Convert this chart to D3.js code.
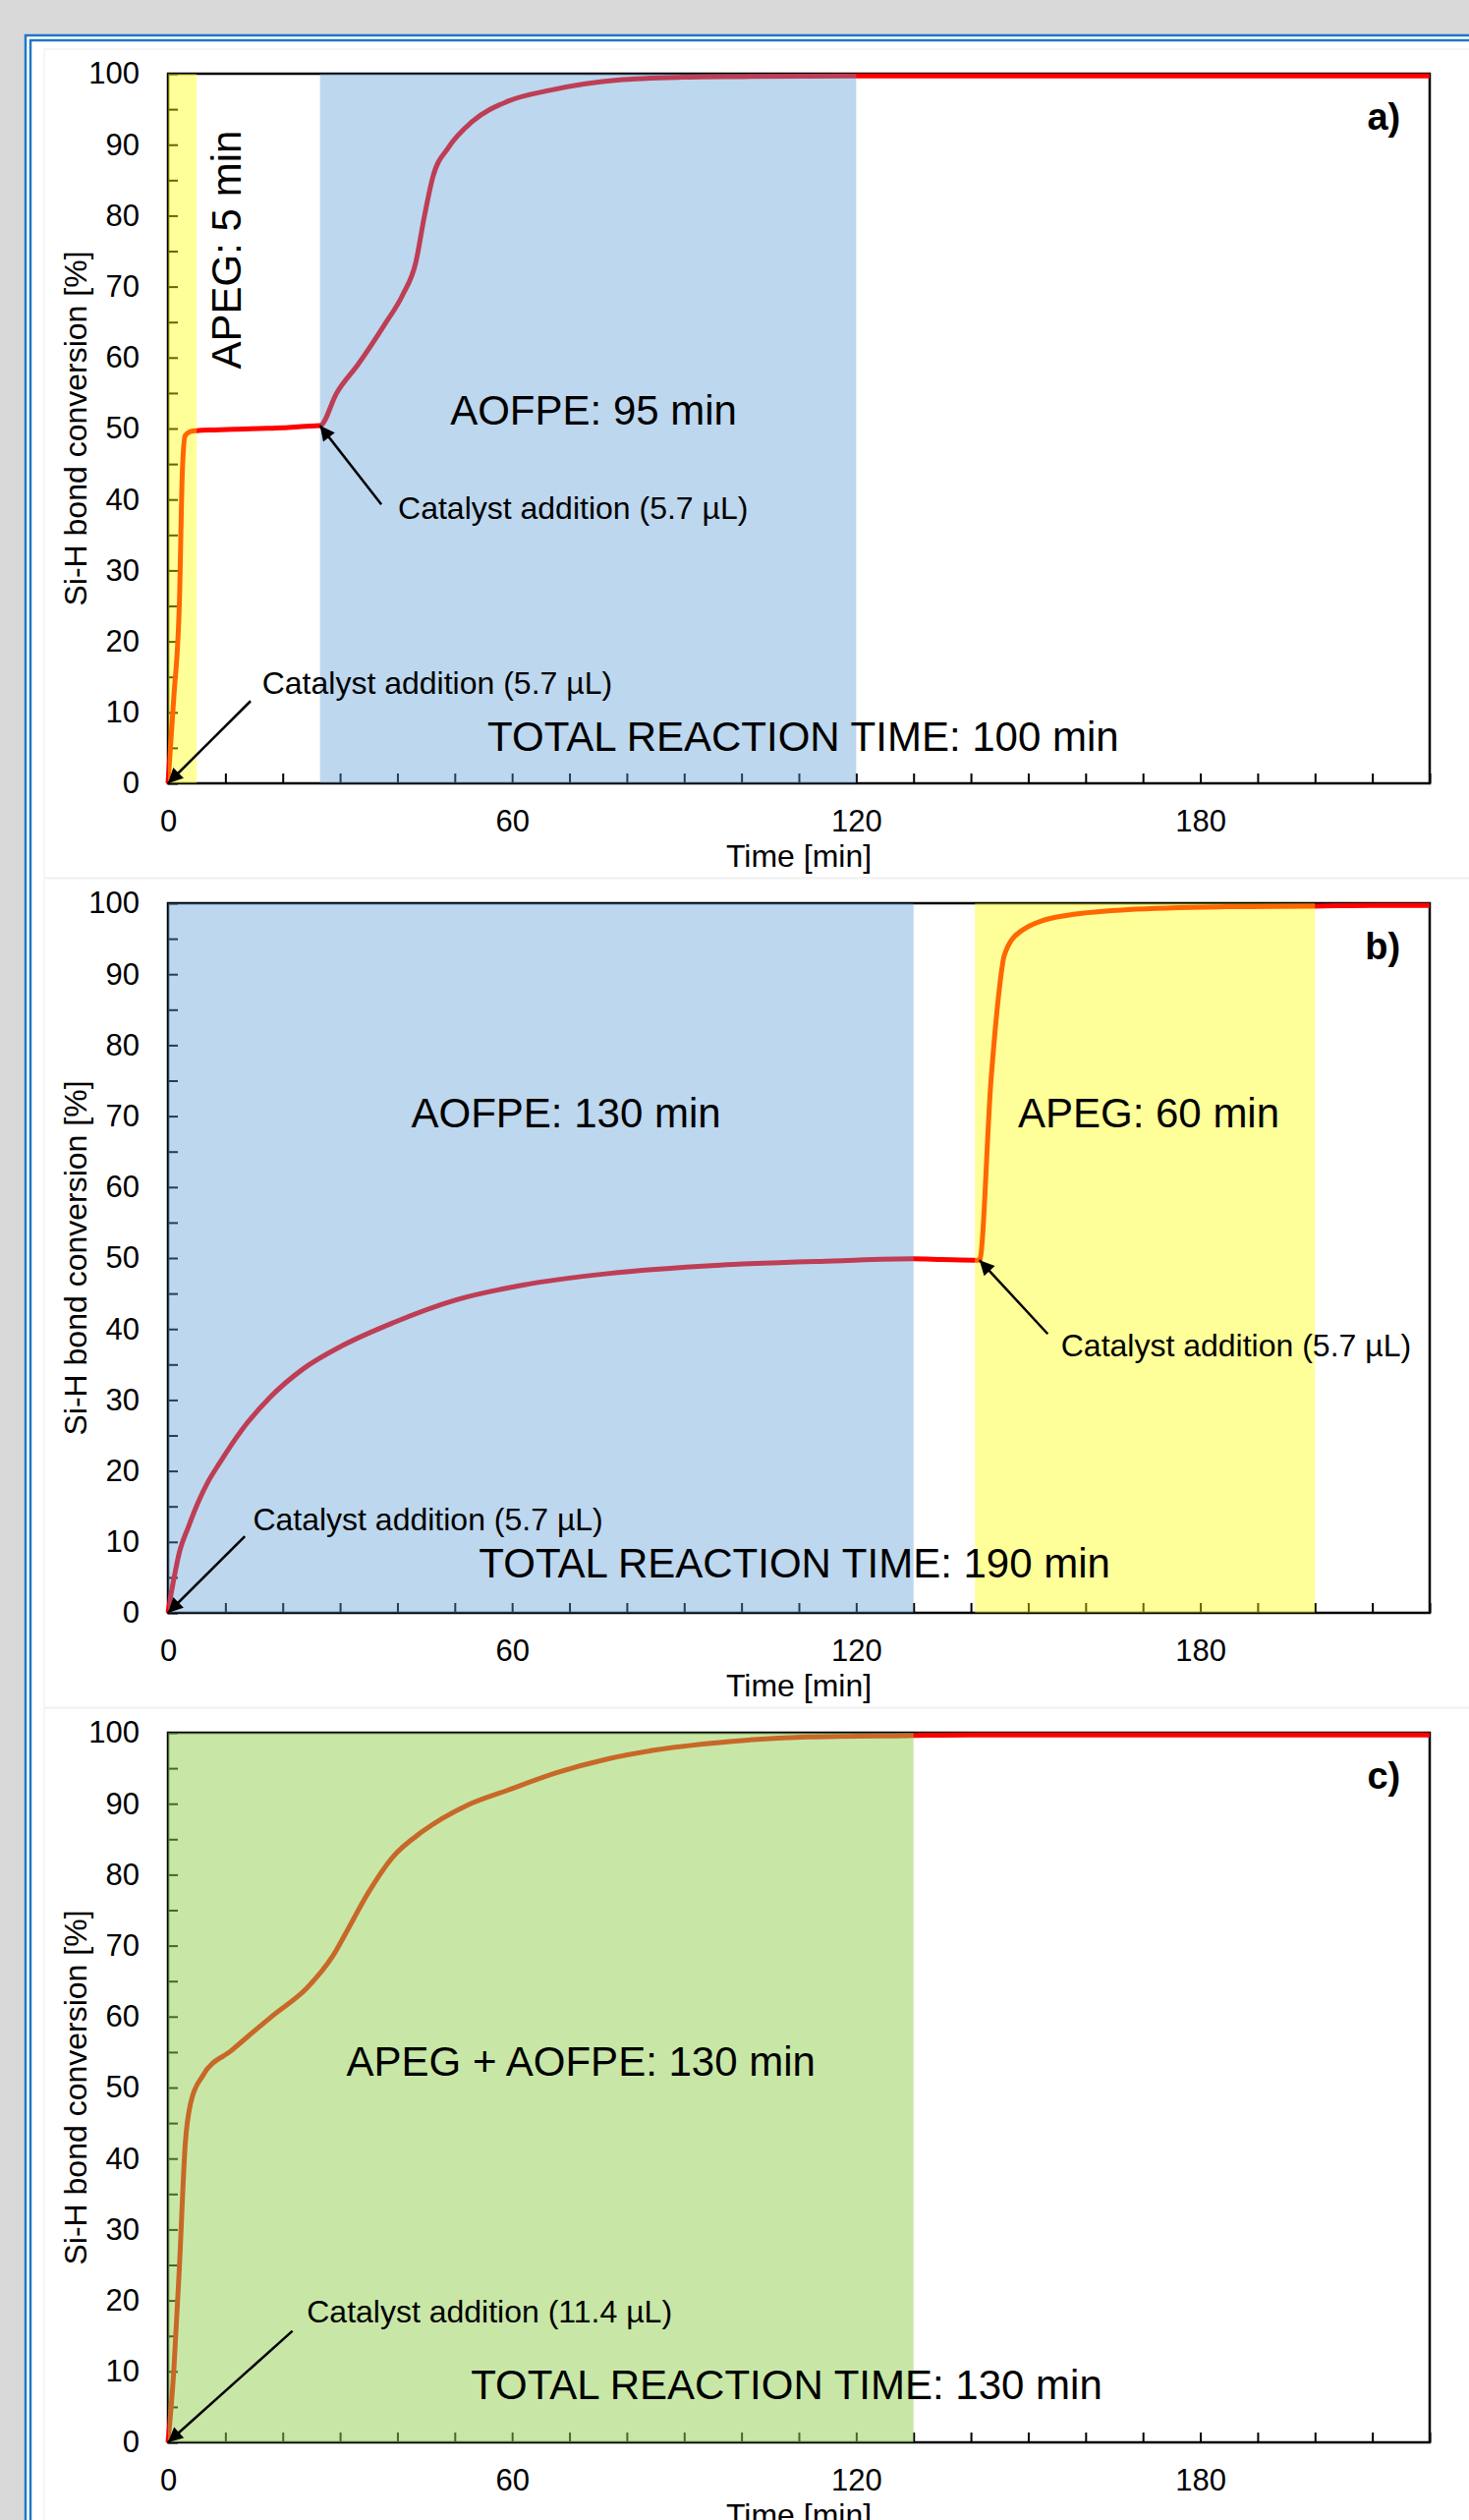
<!DOCTYPE html>
<html>
<head>
<meta charset="utf-8">
<script src="https://cdn.jsdelivr.net/npm/d3@7"></script>
<style>
  body { margin: 0; background: #d9d9d9; }
  svg { display: block; }
</style>
</head>
<body>
<div id="chart"></div>
<script>
// ---- data (time in min, Si-H conversion in %) ----
// a) APEG 5 min then AOFPE
const timeA = [0, 1, 2, 2.5, 3, 4, 5, 8, 12, 16, 20, 24, 26.5, 29.4, 33.2, 37.8, 40.9, 43.2, 44.7, 46.2, 48.9, 53.1, 59.2, 66.8, 78.3, 89.7, 100, 120, 140, 160, 180, 200, 220];
const convA = [0, 12, 26, 44, 49, 49.6, 49.7, 49.8, 49.9, 50, 50.1, 50.3, 50.4, 55, 59.1, 64.7, 68.8, 73.4, 79.9, 85.5, 89.6, 93.3, 96.1, 97.7, 99.1, 99.5, 99.6, 99.7, 99.7, 99.7, 99.7, 99.7, 99.7];
// b) AOFPE 130 min then APEG
const timeB = [0, 0.5, 1, 2, 3.5, 5, 7, 8.9, 12.8, 17.7, 23.6, 30.5, 39.3, 50.2, 61.9, 76.6, 96.3, 116, 130, 135, 141.5, 143.5, 144.9, 145.8, 148.6, 156, 167.4, 184.5, 200, 210, 220];
const convB = [0, 2.5, 4.7, 8.6, 12, 15.1, 18.5, 21, 25.7, 30.3, 34.4, 37.7, 40.9, 44.1, 46.2, 47.8, 49, 49.6, 49.9, 49.8, 49.7, 75, 87.5, 92.6, 96, 98.2, 99.1, 99.5, 99.6, 99.7, 99.7];
// c) APEG + AOFPE together
const timeC = [0, 1, 2, 3, 4, 6, 11.2, 18.2, 24.3, 28.7, 31.3, 34.8, 39.1, 44.4, 52.2, 59.2, 67.9, 76.6, 85.3, 98.4, 111.5, 129, 140, 160, 180, 200, 220];
const convC = [0, 10, 25, 42, 48, 51.6, 55.3, 60.1, 64.1, 68.5, 72.2, 77.3, 82.4, 86.1, 89.8, 91.9, 94.4, 96.3, 97.6, 98.8, 99.4, 99.6, 99.7, 99.7, 99.7, 99.7, 99.7];

// shaded stages: [start, end, monomer]
const stagesA = [[0, 5, 'APEG'], [26.5, 120, 'AOFPE']];
const stagesB = [[0, 130, 'AOFPE'], [140.7, 200, 'APEG']];
const stagesC = [[0, 130, 'BOTH']];

const panelLetters = ['a)', 'b)', 'c)'];
const xTickLabels = [0, 60, 120, 180];
const yTickLabels = [0, 10, 20, 30, 40, 50, 60, 70, 80, 90, 100];

// ---- layout ----
const width = 1495, height = 2564;
const font = '"Liberation Sans", Arial, sans-serif';
const plotLeft = 171, plotRight = 1455, plotH = 722;
const stageFill = {APEG: '#ffff00', AOFPE: '#5b9bd5', BOTH: '#92d050'};
const stageOpacity = {APEG: 0.4, AOFPE: 0.4, BOTH: 0.5};

// annotations per panel, placed in data units
const panels = [
  {
    time: timeA, conv: convA, stages: stagesA,
    notes: [
      {text: 'APEG: 5 min', t: 12.7, v: 75.2, size: 42, anchor: 'middle', rotate: true},
      {text: 'AOFPE: 95 min', t: 74.2, v: 50.6, size: 42, anchor: 'middle'},
      {text: 'Catalyst addition (5.7 µL)', t: 40.1, v: 37.3, size: 32},
      {text: 'Catalyst addition (5.7 µL)', t: 16.4, v: 12.6, size: 32},
      {text: 'TOTAL REACTION TIME: 100 min', t: 55.7, v: 4.6, size: 42}
    ],
    arrows: [[37.2, 39.3, 26.5, 50.4], [14.4, 11.6, 0, 0]]
  },
  {
    time: timeB, conv: convB, stages: stagesB,
    notes: [
      {text: 'AOFPE: 130 min', t: 69.4, v: 68.4, size: 42, anchor: 'middle'},
      {text: 'APEG: 60 min', t: 171, v: 68.4, size: 42, anchor: 'middle'},
      {text: 'Catalyst addition (5.7 µL)', t: 155.7, v: 36.1, size: 32},
      {text: 'Catalyst addition (5.7 µL)', t: 14.8, v: 11.6, size: 32},
      {text: 'TOTAL REACTION TIME: 190 min', t: 54.2, v: 5.0, size: 42}
    ],
    arrows: [[153.4, 39.3, 141.5, 49.7], [13.4, 10.8, 0, 0]]
  },
  {
    time: timeC, conv: convC, stages: stagesC,
    notes: [
      {text: 'APEG + AOFPE: 130 min', t: 72, v: 51.7, size: 42, anchor: 'middle'},
      {text: 'Catalyst addition (11.4 µL)', t: 24.2, v: 16.9, size: 32},
      {text: 'TOTAL REACTION TIME: 130 min', t: 52.8, v: 6.1, size: 42}
    ],
    arrows: [[21.7, 15.7, 0, 0]]
  }
];

const svg = d3.select('#chart').append('svg')
  .attr('width', width)
  .attr('height', height);

// background and blue double frame
svg.append('rect').attr('width', width).attr('height', height).attr('fill', '#d9d9d9');
svg.append('rect')
  .attr('x', 26).attr('y', 36).attr('width', width).attr('height', height)
  .attr('fill', '#fff').attr('stroke', '#1f77c9').attr('stroke-width', 2.5);
svg.append('rect')
  .attr('x', 31).attr('y', 41).attr('width', width).attr('height', height)
  .attr('fill', 'none').attr('stroke', '#1f77c9').attr('stroke-width', 2.5);

svg.append('defs').append('marker')
  .attr('id', 'head')
  .attr('viewBox', '0 0 10 10')
  .attr('refX', 10).attr('refY', 5)
  .attr('markerUnits', 'userSpaceOnUse')
  .attr('markerWidth', 22).attr('markerHeight', 15)
  .attr('orient', 'auto')
  .append('path').attr('d', 'M0,0 L10,5 L0,10 z').attr('fill', '#000');

const x = d3.scaleLinear().domain([0, 220]).range([plotLeft, plotRight]);

panels.forEach((p, i) => {
  const top = 75 + i * 844;
  const bottom = top + plotH;
  const y = d3.scaleLinear().domain([0, 100]).range([bottom, top]);
  const g = svg.append('g');

  // faint chart area outline
  g.append('rect')
    .attr('x', 45).attr('y', top - 25).attr('width', width).attr('height', 843)
    .attr('fill', '#fff').attr('stroke', '#ededed').attr('stroke-width', 1);

  // axes, ticks inside
  const yAxis = d3.axisLeft(y)
    .tickValues(d3.range(0, 101, 5))
    .tickSizeInner(-10).tickSizeOuter(0).tickPadding(29)
    .tickFormat(d => yTickLabels.includes(d) ? d : '');
  const gy = g.append('g').attr('transform', `translate(${plotLeft},0)`).call(yAxis);

  const xAxis = d3.axisBottom(x)
    .tickValues(d3.range(0, 221, 10))
    .tickSizeInner(-10).tickSizeOuter(0).tickPadding(27)
    .tickFormat(d => xTickLabels.includes(d) ? d : '');
  const gx = g.append('g').attr('transform', `translate(0,${bottom})`).call(xAxis);

  [gx, gy].forEach(ax => {
    ax.attr('font-family', font).attr('font-size', 31);
    ax.select('.domain').remove();
    ax.selectAll('.tick line').attr('stroke', '#000').attr('stroke-width', 2);
    ax.selectAll('.tick text').attr('fill', '#000');
  });

  // plot border
  g.append('rect')
    .attr('x', plotLeft).attr('y', top)
    .attr('width', plotRight - plotLeft).attr('height', plotH)
    .attr('fill', 'none').attr('stroke', '#000').attr('stroke-width', 2.5);

  // conversion curve
  const line = d3.line()
    .x(d => x(d[0]))
    .y(d => y(d[1]))
    .curve(d3.curveMonotoneX);
  g.append('path')
    .datum(d3.zip(p.time, p.conv))
    .attr('d', line)
    .attr('fill', 'none')
    .attr('stroke', '#ff0000')
    .attr('stroke-width', 5)
    .attr('stroke-linejoin', 'round');

  // translucent stage bands drawn over the curve
  g.selectAll('.stage')
    .data(p.stages)
    .enter().append('rect')
    .attr('class', 'stage')
    .attr('x', d => x(d[0]))
    .attr('width', d => x(d[1]) - x(d[0]))
    .attr('y', y(100))
    .attr('height', y(0) - y(100))
    .attr('fill', d => stageFill[d[2]])
    .attr('fill-opacity', d => stageOpacity[d[2]]);

  // axis titles
  g.append('text')
    .attr('transform', `translate(77,${(top + bottom) / 2}) rotate(-90)`)
    .attr('dy', '0.35em')
    .attr('text-anchor', 'middle')
    .attr('font-family', font).attr('font-size', 32)
    .text('Si-H bond conversion [%]');
  g.append('text')
    .attr('x', (plotLeft + plotRight) / 2).attr('y', bottom + 85)
    .attr('text-anchor', 'middle')
    .attr('font-family', font).attr('font-size', 32)
    .text('Time [min]');

  // panel letter
  g.append('text')
    .attr('x', x(214.9)).attr('y', y(92.1))
    .attr('text-anchor', 'end')
    .attr('font-family', font).attr('font-size', 38).attr('font-weight', 'bold')
    .text(panelLetters[i]);

  // annotations
  p.notes.forEach(n => {
    const t = g.append('text')
      .attr('font-family', font).attr('font-size', n.size)
      .attr('text-anchor', n.anchor || 'start')
      .text(n.text);
    if (n.rotate) {
      t.attr('transform', `translate(${x(n.t)},${y(n.v)}) rotate(-90)`);
    } else {
      t.attr('x', x(n.t)).attr('y', y(n.v));
    }
  });

  g.selectAll('.arrow')
    .data(p.arrows)
    .enter().append('line')
    .attr('class', 'arrow')
    .attr('x1', d => x(d[0])).attr('y1', d => y(d[1]))
    .attr('x2', d => x(d[2])).attr('y2', d => y(d[3]))
    .attr('stroke', '#000').attr('stroke-width', 2.5)
    .attr('marker-end', 'url(#head)');
});
</script>
</body>
</html>
